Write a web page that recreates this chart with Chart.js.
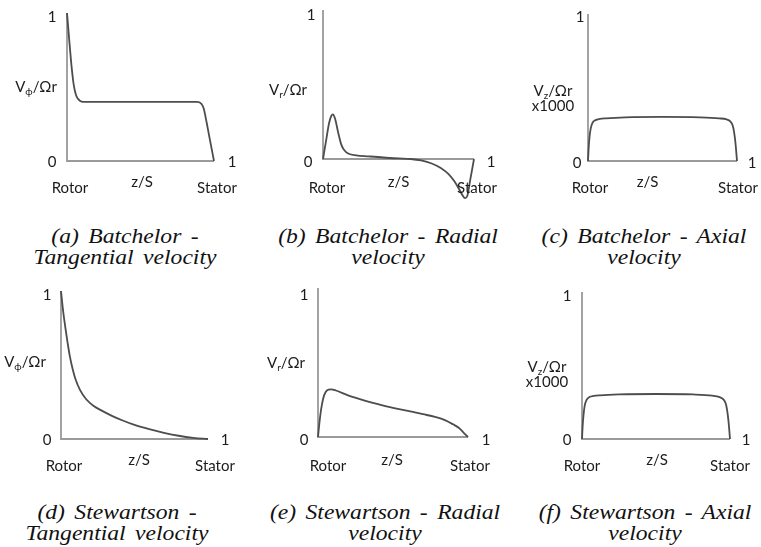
<!DOCTYPE html>
<html><head><meta charset="utf-8">
<script src="https://cdn.jsdelivr.net/npm/chart.js@4.4.0/dist/chart.umd.min.js"></script>
<style>
html,body{margin:0;padding:0;background:#fff;}
#wrap{position:relative;width:761px;height:547px;overflow:hidden;background:#fff;}
canvas{position:absolute;}
.cap{position:absolute;font-family:"Liberation Serif","Times New Roman",serif;font-style:italic;font-size:20px;color:#111;text-align:center;white-space:nowrap;line-height:21px;width:300px;word-spacing:3px;transform:scaleX(1.18);transform-origin:50% 50%;}
</style></head><body><div id="wrap"></div>
<script>
// ---------- data (z/S positions and profile values) ----------
const zA = [0, 0.015, 0.03, 0.045, 0.06, 0.075, 0.09, 0.11, 0.2, 0.4, 0.6, 0.8, 0.88, 0.9, 0.915, 0.93, 0.95, 0.97, 1.0];
const vA = [1.0, 0.82, 0.65, 0.52, 0.45, 0.42, 0.405, 0.40, 0.40, 0.40, 0.40, 0.40, 0.40, 0.397, 0.385, 0.355, 0.26, 0.155, 0];

const zB = [0, 0.02, 0.04, 0.055, 0.065, 0.08, 0.10, 0.12, 0.14, 0.17, 0.22, 0.3, 0.4, 0.5, 0.58, 0.65, 0.72, 0.78, 0.83, 0.87, 0.90, 0.925, 0.94, 0.955, 0.975, 1.0];
const vB = [0, 0.12, 0.24, 0.29, 0.30, 0.27, 0.18, 0.10, 0.06, 0.035, 0.025, 0.018, 0.01, 0.004, 0, -0.01, -0.03, -0.06, -0.10, -0.15, -0.20, -0.245, -0.262, -0.25, -0.14, 0];

const zC = [0, 0.004, 0.01, 0.018, 0.03, 0.05, 0.08, 0.12, 0.25, 0.5, 0.75, 0.88, 0.93, 0.955, 0.97, 0.98, 0.99, 1.0];
const vC = [0, 0.08, 0.16, 0.22, 0.26, 0.278, 0.286, 0.29, 0.297, 0.30, 0.297, 0.29, 0.283, 0.27, 0.245, 0.2, 0.12, 0];

const zD = [0, 0.015, 0.03, 0.045, 0.06, 0.08, 0.1, 0.13, 0.17, 0.22, 0.28, 0.35, 0.42, 0.5, 0.6, 0.7, 0.8, 0.9, 1.0];
const vD = [1.0, 0.86, 0.75, 0.65, 0.56, 0.47, 0.40, 0.33, 0.27, 0.225, 0.19, 0.155, 0.125, 0.095, 0.066, 0.042, 0.022, 0.008, 0];

const zE = [0, 0.01, 0.02, 0.035, 0.05, 0.07, 0.09, 0.12, 0.2, 0.3, 0.4, 0.5, 0.6, 0.7, 0.78, 0.85, 0.9, 0.94, 0.97, 1.0];
const vE = [0, 0.1, 0.18, 0.26, 0.30, 0.318, 0.32, 0.312, 0.28, 0.248, 0.22, 0.195, 0.175, 0.153, 0.135, 0.112, 0.085, 0.06, 0.03, 0];

const zF = [0, 0.004, 0.01, 0.018, 0.03, 0.05, 0.08, 0.12, 0.25, 0.5, 0.75, 0.88, 0.93, 0.955, 0.97, 0.98, 0.99, 1.0];
const vF = [0, 0.08, 0.16, 0.225, 0.265, 0.285, 0.293, 0.297, 0.303, 0.306, 0.303, 0.295, 0.285, 0.27, 0.245, 0.2, 0.12, 0];

// ---------- text ----------
const tickLabels = ['1', '0', '1'];
const xAxisLabels = ['Rotor', 'z/S', 'Stator'];
const yLabelSubs = ['ϕ', 'r', 'z', 'ϕ', 'r', 'z'];
const yLabelExtra = ['', '', 'x1000', '', '', 'x1000'];
const captions = [
  ['(a) Batchelor -', 'Tangential velocity'],
  ['(b) Batchelor - Radial', 'velocity'],
  ['(c) Batchelor - Axial', 'velocity'],
  ['(d) Stewartson -', 'Tangential velocity'],
  ['(e) Stewartson - Radial', 'velocity'],
  ['(f) Stewartson - Axial', 'velocity']
];
const yMins = [0, -0.3, 0, 0, 0, 0];
const series = [[zA, vA], [zB, vB], [zC, vC], [zD, vD], [zE, vE], [zF, vF]];

// ---------- layout (page pixel frames: x0, x1, y0, y1 of axes; canvas boxes) ----------
const layout = [
  {box:[0,0,255,212],   ax:[67,214,161,13],  lab:{top:[-15,4], zero:[-15,1], right:[18,1], yl:[-31,0], rot:[3,27], zs:[1.5,21], sta:[3,27]}, cap:[124.5,236]},
  {box:[255,0,255,215], ax:[323,474,159,10], lab:{top:[-12,5], zero:[-15,3], right:[17,3], yl:[-35,5.5], rot:[4,29], zs:[0,23], sta:[3,29]}, cap:[387.5,236]},
  {box:[510,0,251,212], ax:[588,737,161,14], lab:{top:[-8,3], zero:[-11,2], right:[15,2], yl:[-35,3], rot:[2,27], zs:[-15,21], sta:[1,27]}, cap:[644,236]},
  {box:[0,275,255,210], ax:[61,208,439,291], lab:{top:[-14,4], zero:[-14,1], right:[17,1], yl:[-36,-3], rot:[3,27], zs:[4.5,21], sta:[7,27]}, cap:[117,512]},
  {box:[255,275,255,210], ax:[318,468,437,288], lab:{top:[-14,7], zero:[-14,3], right:[18,3], yl:[-32,0], rot:[10,29], zs:[-1,23], sta:[2,29]}, cap:[385,512]},
  {box:[510,275,251,210], ax:[582,730,439,292], lab:{top:[-15,4], zero:[-15,1], right:[16,1], yl:[-35,1], rot:[0,27], zs:[1,21], sta:[0,27]}, cap:[645,512]}
];

const FONT = 'Lato, "Liberation Sans", sans-serif';
const FS = 15;
const TXT = '#1c1c1c';

const decor = {
  id: 'decor',
  beforeDatasetsDraw(chart, args, o) {
    const {ctx, scales: {x, y}} = chart;
    const X0 = x.getPixelForValue(0), X1 = x.getPixelForValue(1);
    const Y0 = y.getPixelForValue(0), Y1 = y.getPixelForValue(1);
    ctx.save();
    ctx.strokeStyle = '#9a9a9a';
    ctx.lineWidth = 1.8;
    ctx.lineJoin = 'miter';
    ctx.beginPath();
    ctx.moveTo(X0, Y1); ctx.lineTo(X0, Y0); ctx.lineTo(X1, Y0);
    ctx.stroke();
    ctx.restore();
  },
  afterDraw(chart, args, o) {
    const {ctx, scales: {x, y}} = chart;
    const X0 = x.getPixelForValue(0), X1 = x.getPixelForValue(1);
    const Y0 = y.getPixelForValue(0), Y1 = y.getPixelForValue(1);
    const L = o.lab;
    const cy = 0.36 * FS; // centre -> baseline
    ctx.save();
    ctx.fillStyle = TXT;
    ctx.textBaseline = 'alphabetic';
    ctx.textAlign = 'center';
    ctx.font = FS + 'px ' + FONT;
    ctx.fillText(tickLabels[0], X0 + L.top[0], Y1 + L.top[1] + cy);
    ctx.fillText(tickLabels[1], X0 + L.zero[0], Y0 + L.zero[1] + cy);
    ctx.fillText(tickLabels[2], X1 + L.right[0], Y0 + L.right[1] + cy);
    ctx.fillText(xAxisLabels[0], X0 + L.rot[0], Y0 + L.rot[1] + cy);
    ctx.fillText(xAxisLabels[1], (X0 + X1) / 2 + L.zs[0], Y0 + L.zs[1] + cy);
    ctx.fillText(xAxisLabels[2], X1 + L.sta[0], Y0 + L.sta[1] + cy);
    // y label: V_sub/Ωr
    const cx = X0 + L.yl[0];
    const by = (Y0 + Y1) / 2 + L.yl[1] + cy;
    const big = FS + 'px ' + FONT, small = '10px ' + FONT;
    ctx.font = big; const wV = ctx.measureText('V').width; const wR = ctx.measureText('/Ωr').width;
    ctx.font = small; const wS = ctx.measureText(o.sub).width;
    const tot = wV + wS + wR;
    let px = cx - tot / 2;
    ctx.textAlign = 'left';
    ctx.font = big; ctx.fillText('V', px, by); px += wV;
    ctx.font = small; ctx.fillText(o.sub, px, by + 3); px += wS;
    ctx.font = big; ctx.fillText('/Ωr', px, by);
    if (o.extra) {
      ctx.textAlign = 'center';
      ctx.fillText(o.extra, cx, by + 15);
    }
    ctx.restore();
  }
};

const wrap = document.getElementById('wrap');
layout.forEach((P, i) => {
  const [bl, bt, bw, bh] = P.box;
  const [x0, x1, y0, y1] = P.ax;
  const ymin = yMins[i];
  const H = (y0 - y1) * (1 - ymin);
  const pad = {left: x0 - bl, right: bl + bw - x1, top: y1 - bt, bottom: bt + bh - (y1 + H)};
  const cv = document.createElement('canvas');
  cv.width = bw; cv.height = bh;
  cv.style.left = bl + 'px'; cv.style.top = bt + 'px';
  cv.style.width = bw + 'px'; cv.style.height = bh + 'px';
  wrap.appendChild(cv);
  const [zs, vs] = series[i];
  new Chart(cv, {
    type: 'line',
    data: {datasets: [{
      data: zs.map((z, k) => ({x: z, y: vs[k]})),
      borderColor: '#4d4d4d', borderWidth: 1.8, pointRadius: 0,
      cubicInterpolationMode: 'monotone', fill: false, clip: false
    }]},
    options: {
      responsive: false, animation: false, devicePixelRatio: 1,
      layout: {padding: pad},
      plugins: {legend: {display: false}, tooltip: {enabled: false},
        decor: {lab: P.lab, sub: yLabelSubs[i], extra: yLabelExtra[i]}},
      scales: {
        x: {type: 'linear', min: 0, max: 1, display: false},
        y: {type: 'linear', min: ymin, max: 1, display: false}
      }
    },
    plugins: [decor]
  });
  const c = document.createElement('div');
  c.className = 'cap';
  c.style.left = (P.cap[0] - 150) + 'px';
  c.style.top = (P.cap[1] - 10.5) + 'px';
  c.innerHTML = captions[i].map(s => '<div>' + s + '</div>').join('');
  wrap.appendChild(c);
});
</script>
</body></html>
